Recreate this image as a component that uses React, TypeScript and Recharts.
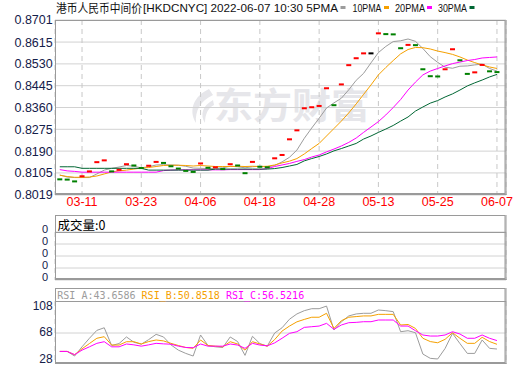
import React from 'react'
import {
  ComposedChart,
  LineChart,
  Line,
  Bar,
  Scatter,
  XAxis,
  YAxis,
  CartesianGrid,
  ReferenceLine,
} from 'recharts'

// trading days shown on the chart
const dates = [
  '03-08', '03-09', '03-10', '03-11', '03-14', '03-15', '03-16', '03-17', '03-18', '03-21',
  '03-22', '03-23', '03-24', '03-25', '03-28', '03-29', '03-30', '03-31', '04-01', '04-06',
  '04-07', '04-08', '04-11', '04-12', '04-13', '04-14', '04-15', '04-18', '04-19', '04-20',
  '04-21', '04-22', '04-25', '04-26', '04-27', '04-28', '04-29', '05-05', '05-06', '05-09',
  '05-10', '05-11', '05-12', '05-13', '05-16', '05-17', '05-18', '05-19', '05-20', '05-23',
  '05-24', '05-25', '05-26', '05-27', '05-30', '05-31', '06-01', '06-02', '06-06', '06-07',
]
const tickDates = ['03-11', '03-23', '04-06', '04-18', '04-28', '05-13', '05-25', '06-07']
const priceTicks = [0.8019, 0.8105, 0.819, 0.8275, 0.836, 0.8445, 0.853, 0.8615, 0.8701]
const rsiTicks = [28, 68, 108]

const prevClose = 0.8083
const close = [
  0.808, 0.8079, 0.8072, 0.8092, 0.8111, 0.8147, 0.8154, 0.8111, 0.8117, 0.8139,
  0.8134, 0.8124, 0.8133, 0.8148, 0.8144, 0.8131, 0.8122, 0.8113, 0.8109, 0.8142,
  0.8125, 0.8127, 0.812, 0.8139, 0.8134, 0.8104, 0.8148, 0.8129, 0.8127, 0.8162,
  0.8175, 0.8236, 0.8271, 0.8357, 0.8361, 0.8366, 0.8435, 0.8369, 0.845, 0.8525,
  0.8552, 0.8571, 0.8571, 0.8649, 0.8646, 0.8645, 0.8591, 0.8604, 0.8603, 0.8509,
  0.8482, 0.8481, 0.8509, 0.8587, 0.8544, 0.8491, 0.8497, 0.8526, 0.8501, 0.8498,
]
const ma5 = [
  0.8097, 0.8089, 0.8087, 0.8087, 0.8087, 0.8101, 0.8116, 0.8123, 0.8128, 0.8134,
  0.8131, 0.8125, 0.8129, 0.8136, 0.8137, 0.8136, 0.8135, 0.8131, 0.8124, 0.8123,
  0.8122, 0.8123, 0.8125, 0.8131, 0.8129, 0.8125, 0.8129, 0.8131, 0.8128, 0.8134,
  0.8148, 0.8166, 0.8194, 0.824, 0.828, 0.8318, 0.8358, 0.8378, 0.8396, 0.8429,
  0.8466, 0.8493, 0.8534, 0.8574, 0.8598, 0.8617, 0.862, 0.8627, 0.8618, 0.859,
  0.8558, 0.8536, 0.8517, 0.8513, 0.8521, 0.8522, 0.8526, 0.8529, 0.8512, 0.8502,
]
const ma10 = [
  0.8096, 0.8091, 0.8088, 0.8088, 0.8089, 0.8093, 0.8101, 0.8109, 0.8113, 0.8116,
  0.812, 0.8124, 0.8126, 0.813, 0.8134, 0.8135, 0.8135, 0.8134, 0.8132, 0.8134,
  0.8132, 0.813, 0.813, 0.813, 0.8131, 0.813, 0.8131, 0.813, 0.8131, 0.8136,
  0.8144, 0.8151, 0.8161, 0.8179, 0.82, 0.822, 0.8249, 0.8278, 0.8307, 0.8339,
  0.8374, 0.8411, 0.8448, 0.8487, 0.8516, 0.8543, 0.8569, 0.8586, 0.8594, 0.8593,
  0.8588, 0.858, 0.8574, 0.8567, 0.8557, 0.8545, 0.8535, 0.8526, 0.8518, 0.8512,
]
const ma20 = [
  0.8118, 0.8113, 0.8111, 0.8108, 0.8108, 0.8108, 0.8108, 0.8108, 0.8108, 0.8108,
  0.8108, 0.8108, 0.8108, 0.8108, 0.8114, 0.8116, 0.8117, 0.8117, 0.8117, 0.8117,
  0.8117, 0.8117, 0.8117, 0.8118, 0.8118, 0.8118, 0.8118, 0.8118, 0.8122, 0.813,
  0.8136, 0.8142, 0.815, 0.8157, 0.8167, 0.8175, 0.8187, 0.8198, 0.821, 0.8224,
  0.8241, 0.8263, 0.8284, 0.8305, 0.8331, 0.836, 0.8391, 0.8428, 0.8459, 0.8487,
  0.8502, 0.8512, 0.8522, 0.8531, 0.8537, 0.8543, 0.8547, 0.8553, 0.8555, 0.8557,
]
const ma30 = [
  0.8129, 0.8129, 0.8129, 0.8123, 0.8123, 0.8123, 0.8123, 0.8123, 0.8123, 0.8123,
  0.8123, 0.8123, 0.8116, 0.8116, 0.8116, 0.8116, 0.8116, 0.8116, 0.8116, 0.8116,
  0.8116, 0.812, 0.812, 0.812, 0.812, 0.812, 0.812, 0.812, 0.812, 0.8122,
  0.8126, 0.8132, 0.8138, 0.8152, 0.8161, 0.8169, 0.8179, 0.8191, 0.82, 0.821,
  0.822, 0.8237, 0.8249, 0.8263, 0.8276, 0.829, 0.8307, 0.8323, 0.8346, 0.8362,
  0.8377, 0.8387, 0.8401, 0.8413, 0.8428, 0.8444, 0.8456, 0.8467, 0.8479, 0.8489,
]
const volume = [
  0, 0, 0, 0, 0, 0, 0, 0, 0, 0, 0, 0, 0, 0, 0, 0, 0, 0, 0, 0,
  0, 0, 0, 0, 0, 0, 0, 0, 0, 0, 0, 0, 0, 0, 0, 0, 0, 0, 0, 0,
  0, 0, 0, 0, 0, 0, 0, 0, 0, 0, 0, 0, 0, 0, 0, 0, 0, 0, 0, 0,
]
const rsiA = [
  40, 40, 33, 47, 60, 72, 76, 49, 52, 62,
  54, 51, 58, 66, 62, 50, 42, 37, 33, 65,
  49, 47, 46, 62, 55, 34, 63, 52, 48, 68,
  76, 89, 97, 102, 105, 105, 109, 72.6, 85, 94,
  97, 98, 98, 103, 102, 100.5, 70, 71.5, 68.5, 36,
  29.5, 28.5, 44.5, 67.5, 52, 37, 37, 57.4, 44.7, 43.6586,
]
const rsiB = [
  40, 40, 35, 44, 52, 60, 62.4, 49.7, 49.7, 54.8,
  54.8, 51.3, 55, 57.4, 56, 52.3, 49, 46, 44.7, 57.4,
  49, 48, 47, 54.8, 51.3, 42, 54.8, 51.3, 48, 58,
  71, 78.6, 85, 88.7, 92, 92, 98, 75, 86.7, 92,
  93, 94, 94, 96.4, 96.4, 96.4, 80.2, 81, 75, 60,
  55, 53.2, 58.4, 68.5, 60, 52.3, 52.3, 61.5, 55, 50.8518,
]
const rsiC = [
  40, 40, 35, 42, 47, 52.3, 54.8, 47, 47, 51.3,
  50, 48, 50, 52.3, 51.5, 51, 48, 46, 45.6, 51.3,
  48, 48, 48, 51.3, 49.7, 44.7, 52.3, 49.7, 48.5, 53,
  60, 67.5, 70, 76.6, 77.6, 78.6, 82.7, 73.6, 80.2, 83.7,
  84.2, 85.2, 85.2, 87.8, 87.8, 87.8, 78.6, 78.6, 71.5, 65,
  63.4, 63.4, 65, 70, 66.5, 60, 60, 65, 60, 56.5216,
]

const rows = dates.map((date, i) => {
  const prev = i === 0 ? prevClose : close[i - 1]
  const diff = close[i] - prev
  return {
    idx: i,
    date,
    close: close[i],
    dir: Math.abs(diff) < 1e-9 ? 0 : diff > 0 ? 1 : -1,
    ma5: ma5[i],
    ma10: ma10[i],
    ma20: ma20[i],
    ma30: ma30[i],
    volume: volume[i],
    rsiA: rsiA[i],
    rsiB: rsiB[i],
    rsiC: rsiC[i],
  }
})

const xTicks = tickDates.map((d) => dates.indexOf(d))
const xDomain: [number, number] = [-0.646, 60.22]

const C_GRAY = '#9c9c9c'
const C_ORANGE = '#f5a000'
const C_MAGENTA = '#ff00ff'
const C_GREEN = '#006633'
const GRID = '#d2d2d2'
const FRAME = '#9a9a9a'
const LABEL = '#14204a'
const FONT = '"Liberation Sans", Arial, sans-serif'
const CJK = '"Noto Sans CJK SC", sans-serif'

function CandleDash(props: any) {
  const { cx, cy, payload } = props
  if (cx == null || cy == null) return null
  const color = payload.dir > 0 ? '#ff0000' : payload.dir < 0 ? '#008000' : '#000000'
  return <rect x={cx - 2.5} y={cy - 1} width={5} height={2} fill={color} />
}

function hiddenX() {
  return (
    <XAxis
      dataKey="idx"
      type="number"
      domain={xDomain}
      ticks={xTicks}
      interval={0}
      allowDataOverflow
      height={0}
      tick={false}
      axisLine={false}
      tickLine={false}
    />
  )
}

export default function App() {
  const rsiLast = [rsiA, rsiB, rsiC].map((a) => a[a.length - 1].toFixed(4))

  return (
    <div style={{ position: 'absolute', left: 0, top: 0, width: 520, height: 365, background: '#fff', overflow: 'hidden' }}>
      {/* watermark */}
      <svg width={520} height={365} style={{ position: 'absolute', left: 0, top: 0 }}>
        <path d="M209 89 C194 96 188 110 196 123 C195 111 200 101 213 95 Z" fill="#e6e6ea" />
        <path d="M213 100 C202 106 200 115 205 123 C205 114 208 108 214 105 Z" fill="#e6e6ea" />
        <text x={214} y={119} fontFamily={CJK} fontWeight={700} fontSize={36} fill="#e6e6ea" textLength={156} lengthAdjust="spacingAndGlyphs">
          东方财富
        </text>
      </svg>

      {/* price panel */}
      <div style={{ position: 'absolute', left: 0, top: 0 }}>
        <ComposedChart width={520} height={215} data={rows} margin={{ top: 20, right: 14, bottom: 0, left: 0 }}>
          <CartesianGrid vertical={false} stroke={GRID} />
          <CartesianGrid horizontal={false} stroke="#c8c8c8" strokeDasharray="5 4" />
          <XAxis
            dataKey="idx"
            type="number"
            domain={xDomain}
            ticks={xTicks}
            interval={0}
            allowDataOverflow
            height={20}
            axisLine={false}
            tickLine={false}
            tickSize={0}
            tickMargin={2}
            tickFormatter={(v: number) => dates[v]}
            tick={{ fill: '#ff0000', fontSize: 12.5, fontFamily: FONT }}
          />
          <YAxis
            type="number"
            domain={[0.8019, 0.8701]}
            ticks={priceTicks}
            interval={0}
            allowDataOverflow
            width={55}
            axisLine={false}
            tickLine={false}
            tickSize={0}
            tickMargin={2.3}
            tickFormatter={(v: number) => v.toFixed(4)}
            tick={{ fill: LABEL, fontSize: 12.5, fontFamily: FONT }}
          />
          <Scatter dataKey="close" shape={CandleDash} isAnimationActive={false} />
          <Line type="linear" dataKey="ma5" stroke={C_GRAY} strokeWidth={1} dot={false} isAnimationActive={false} />
          <Line type="linear" dataKey="ma10" stroke={C_ORANGE} strokeWidth={1} dot={false} isAnimationActive={false} />
          <Line type="linear" dataKey="ma20" stroke={C_MAGENTA} strokeWidth={1} dot={false} isAnimationActive={false} />
          <Line type="linear" dataKey="ma30" stroke={C_GREEN} strokeWidth={1} dot={false} isAnimationActive={false} />
        </ComposedChart>
      </div>

      {/* volume panel */}
      <div style={{ position: 'absolute', left: 0, top: 215 }}>
        <ComposedChart width={520} height={69} data={rows} margin={{ top: 17, right: 14, bottom: 4, left: 0 }}>
          <CartesianGrid vertical={false} stroke={GRID} />
          <CartesianGrid horizontal={false} stroke="#c8c8c8" strokeDasharray="5 4" />
          {hiddenX()}
          <YAxis
            type="number"
            domain={[0, 4]}
            ticks={[0, 1, 2, 3, 4]}
            interval={0}
            width={55}
            axisLine={false}
            tickLine={false}
            tickSize={0}
            tickMargin={7}
            tickFormatter={() => '0'}
            tick={{ fill: LABEL, fontSize: 11, fontFamily: FONT, dy: -3 }}
          />
          <Bar dataKey="volume" fill="#ff0000" isAnimationActive={false} />
        </ComposedChart>
      </div>

      {/* RSI panel */}
      <div style={{ position: 'absolute', left: 0, top: 288 }}>
        <LineChart width={520} height={77} data={rows} margin={{ top: 13, right: 14, bottom: 2, left: 0 }}>
          <CartesianGrid horizontal={false} stroke="#c8c8c8" strokeDasharray="5 4" />
          {hiddenX()}
          <YAxis
            type="number"
            domain={[22.4, 116.7]}
            ticks={rsiTicks}
            interval={0}
            allowDataOverflow
            width={55}
            axisLine={false}
            tickLine={false}
            tickSize={0}
            tickMargin={2.3}
            tick={{ fill: LABEL, fontSize: 12, fontFamily: FONT, dy: -1 }}
          />
          <ReferenceLine y={68} stroke={GRID} />
          <Line type="linear" dataKey="rsiA" stroke={C_GRAY} strokeWidth={1} dot={false} isAnimationActive={false} />
          <Line type="linear" dataKey="rsiB" stroke={C_ORANGE} strokeWidth={1} dot={false} isAnimationActive={false} />
          <Line type="linear" dataKey="rsiC" stroke={C_MAGENTA} strokeWidth={1} dot={false} isAnimationActive={false} />
        </LineChart>
      </div>

      {/* titles and frames */}
      <svg width={520} height={365} style={{ position: 'absolute', left: 0, top: 0, pointerEvents: 'none' }}>
        <text x={56} y={13} fontFamily={CJK} fontSize={12} fill="#111" textLength={86} lengthAdjust="spacingAndGlyphs">
          港币人民币中间价
        </text>
        <text x={143} y={12} fontFamily={FONT} fontSize={11.5} fill="#111" textLength={195} lengthAdjust="spacingAndGlyphs">
          [HKDCNYC] 2022-06-07 10:30 5PMA
        </text>
        <rect x={340.5} y={6} width={5} height={3} fill={C_GRAY} />
        <text x={352.5} y={12} fontFamily={FONT} fontSize={11.5} fill="#111" textLength={29} lengthAdjust="spacingAndGlyphs">
          10PMA
        </text>
        <rect x={384} y={6} width={5} height={3} fill={C_ORANGE} />
        <text x={395} y={12} fontFamily={FONT} fontSize={11.5} fill="#111" textLength={30} lengthAdjust="spacingAndGlyphs">
          20PMA
        </text>
        <rect x={427} y={6} width={5} height={3} fill={C_MAGENTA} />
        <text x={438} y={12} fontFamily={FONT} fontSize={11.5} fill="#111" textLength={29} lengthAdjust="spacingAndGlyphs">
          30PMA
        </text>
        <rect x={469.5} y={6} width={5} height={3} fill={C_GREEN} />

        {/* price frame */}
        <rect x={55.5} y={20.5} width={449.5} height={173} fill="none" stroke={FRAME} />
        <line x1={506} y1={20} x2={506} y2={195} stroke={FRAME} />
        <line x1={55} y1={194.5} x2={506.5} y2={194.5} stroke={FRAME} />

        {/* volume frame */}
        <rect x={55.5} y={215.5} width={449.5} height={63} fill="none" stroke={FRAME} />
        <line x1={506} y1={215} x2={506} y2={280} stroke={FRAME} />
        <line x1={55} y1={279.5} x2={506.5} y2={279.5} stroke={FRAME} />
        <line x1={55} y1={232.5} x2={506} y2={232.5} stroke={FRAME} />
        <text x={57.5} y={229.5} fontFamily={CJK} fontSize={12.5} fill="#000">
          成交量:0
        </text>

        {/* RSI frame */}
        <rect x={55.5} y={288.5} width={449.5} height={74} fill="none" stroke={FRAME} />
        <line x1={506} y1={288} x2={506} y2={364} stroke={FRAME} />
        <line x1={55} y1={363.5} x2={506.5} y2={363.5} stroke={FRAME} />
        <line x1={55} y1={301.5} x2={506} y2={301.5} stroke={FRAME} />
        <text x={57.3} y={298.5} fontFamily='"DejaVu Sans Mono", monospace' fontSize={10}>
          <tspan fill={C_GRAY}>{`RSI_A:${rsiLast[0]}`}</tspan>
          <tspan fill={C_ORANGE}>{` RSI_B:${rsiLast[1]}`}</tspan>
          <tspan fill={C_MAGENTA}>{` RSI_C:${rsiLast[2]}`}</tspan>
        </text>
      </svg>
    </div>
  )
}
